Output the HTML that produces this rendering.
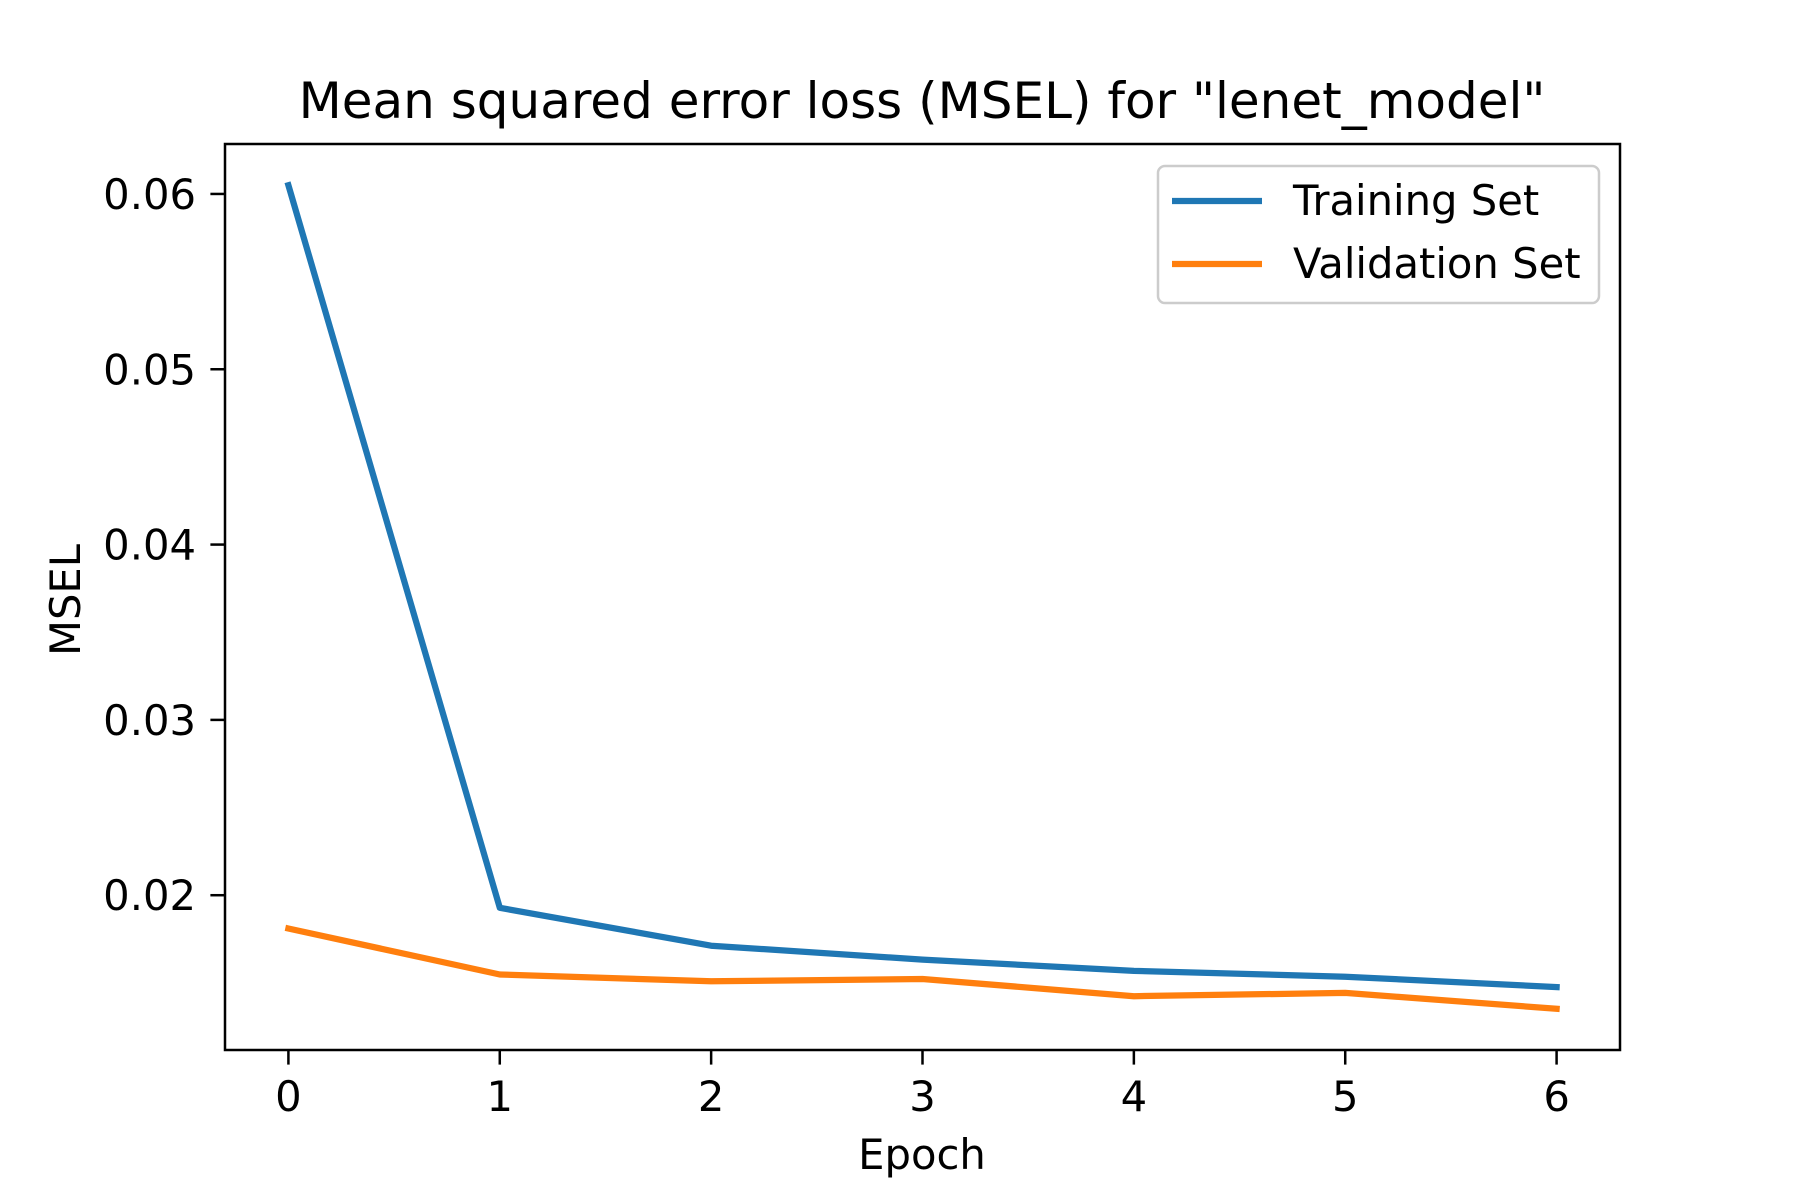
<!DOCTYPE html>
<html><head><meta charset="utf-8"><style>
html,body{margin:0;padding:0;background:#fff;}
svg{display:block;font-family:"DejaVu Sans","Liberation Sans",sans-serif;}
</style></head><body>
<svg id="chart" width="1800" height="1200" viewBox="0 0 1800 1200">
<rect x="0" y="0" width="1800" height="1200" fill="#fff"/>
<text x="922" y="118" font-size="50" text-anchor="middle">Mean squared error loss (MSEL) for "lenet_model"</text>
<g id="plot"></g>
<rect x="225" y="144" width="1395" height="906" fill="none" stroke="#000" stroke-width="2.5"/>
<text x="922" y="1169" font-size="41.7" text-anchor="middle">Epoch</text>
<text transform="translate(80,600) rotate(-90)" font-size="41.7" text-anchor="middle">MSEL</text>
<g>
<rect x="1158" y="166" width="441" height="137" rx="7" fill="#fff" fill-opacity="0.8" stroke="#ccc" stroke-width="2.5"/>
<line x1="1172" y1="201" x2="1262" y2="201" stroke="#1f77b4" stroke-width="6.25"/>
<text x="1293" y="215" font-size="41.7">Training Set</text>
<line x1="1172" y1="264" x2="1262" y2="264" stroke="#ff7f0e" stroke-width="6.25"/>
<text x="1293" y="278" font-size="41.7">Validation Set</text>
</g>
</svg>
<script>
const epochs = [0, 1, 2, 3, 4, 5, 6];
const trainingLoss = [0.0605, 0.01928, 0.01712, 0.01633, 0.01568, 0.01535, 0.01476];
const validationLoss = [0.0181, 0.01548, 0.01509, 0.01522, 0.01424, 0.01443, 0.01352];
const xTicks = [0, 1, 2, 3, 4, 5, 6];
const yTicks = [0.02, 0.03, 0.04, 0.05, 0.06];
const yTickLabels = ["0.02", "0.03", "0.04", "0.05", "0.06"];

const NS = "http://www.w3.org/2000/svg";
const L = 225, R = 1620, T = 144, B = 1050;
const allY = trainingLoss.concat(validationLoss);
const yMinD = Math.min(...allY), yMaxD = Math.max(...allY);
const yPad = (yMaxD - yMinD) * 0.05;
const y0 = yMinD - yPad, y1 = yMaxD + yPad;
const xMinD = Math.min(...epochs), xMaxD = Math.max(...epochs);
const xPad = (xMaxD - xMinD) * 0.05;
const x0 = xMinD - xPad, x1 = xMaxD + xPad;
function xs(v){ return L + (v - x0) / (x1 - x0) * (R - L); }
function ys(v){ return B - (v - y0) / (y1 - y0) * (B - T); }

const g = document.getElementById('plot');
function mk(tag, attrs){ const e = document.createElementNS(NS, tag); for (const k in attrs) e.setAttribute(k, attrs[k]); return e; }

xTicks.forEach(t => {
  const X = xs(t);
  const ln = mk('line', {x1: X, y1: B, x2: X, y2: B + 14.6, stroke: '#000', 'stroke-width': 2.5});
  
  
  g.appendChild(ln);
  const tx = mk('text', {x: X, y: 1111, 'font-size': 41.7, 'text-anchor': 'middle'});
  tx.textContent = String(t);
  
  
  g.appendChild(tx);
});
yTicks.forEach((t, i) => {
  const Y = ys(t);
  const ln = mk('line', {x1: L - 14.6, y1: Y, x2: L, y2: Y, stroke: '#000', 'stroke-width': 2.5});
  
  
  g.appendChild(ln);
  const tx = mk('text', {x: L - 29, y: Y + 15, 'font-size': 41.7, 'text-anchor': 'end'});
  tx.textContent = yTickLabels[i];
  
  
  g.appendChild(tx);
});
function line(vals, color, name){
  const pts = vals.map((v, i) => xs(epochs[i]).toFixed(1) + ',' + ys(v).toFixed(1)).join(' ');
  const p = mk('polyline', {points: pts, fill: 'none', stroke: color, 'stroke-width': 6.25, 'stroke-linecap': 'square', 'stroke-linejoin': 'round'});
  
  
  g.appendChild(p);
}
line(trainingLoss, '#1f77b4', 'training-loss-line');
line(validationLoss, '#ff7f0e', 'validation-loss-line');
</script>
</body></html>
